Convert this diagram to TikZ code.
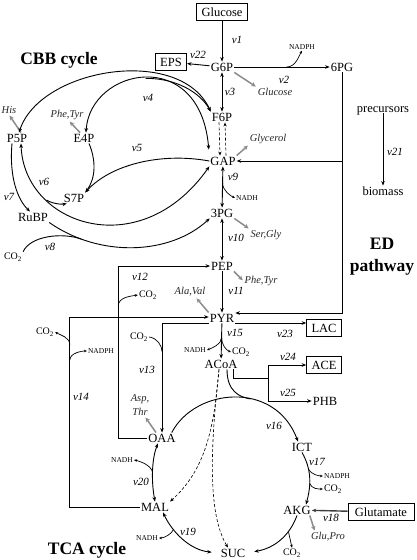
\documentclass[tikz,border=0pt]{standalone}
\usepackage{fontspec}
\setmainfont{Liberation Serif}
\usetikzlibrary{arrows.meta}
\tikzset{
    met/.style={font=\fontsize{12.5}{14}\selectfont, inner sep=1pt, text height=8.5pt, text depth=0pt},
    pool/.style={met, draw=black, line width=0.6pt, inner xsep=5pt, inner ysep=4.5pt},
    rxn/.style={font=\fontsize{11}{13}\selectfont\itshape, inner sep=1pt},
    prod/.style={font=\fontsize{10.5}{14}\selectfont\itshape, text=black!85, inner sep=1pt},
    cof/.style={font=\fontsize{7.5}{9}\selectfont, inner sep=1pt},
    gas/.style={font=\fontsize{10}{12}\selectfont, inner sep=1pt},
    heading/.style={font=\fontsize{17.5}{22}\selectfont\bfseries, align=center, inner sep=0pt},
    flux/.style={line width=0.9pt, -{Stealth[length=4.5pt,width=3.6pt]}},
    rev/.style={line width=0.9pt, {Stealth[length=4.5pt,width=3.6pt]}-{Stealth[length=4.5pt,width=3.6pt]}},
    drain/.style={draw=black!45, line width=1.5pt, -{Stealth[length=4.5pt,width=4.5pt]}, shorten >=1pt},
    side/.style={line width=0.7pt, -{Stealth[length=3pt,width=2.6pt]}},
    spill/.style={line width=0.6pt, densely dashed, -{Stealth[length=4pt,width=3.2pt]}}
}
\begin{document}
\begin{tikzpicture}[x=1pt, y=-1pt]
    \useasboundingbox (0,0) rectangle (416,560);
    % metabolites
    \node [pool] (glc) at (222,12) {Glucose};
    \node [met] (g6p) at (222,67) {G6P};
    \node [pool] (eps) at (171,62) {EPS};
    \node [met] (pg6) at (342,67) {6PG};
    \node [met] (f6p) at (222,117) {F6P};
    \node [met] (gap) at (223,161) {GAP};
    \node [met] (pg3) at (222,213) {3PG};
    \node [met] (pep) at (222,266) {PEP};
    \node [met] (pyr) at (222,318) {PYR};
    \node [met] (acoa) at (221,364) {ACoA};
    \node [pool] (lac) at (324,328) {LAC};
    \node [pool] (ace) at (324,365) {ACE};
    \node [met] (phb) at (325,401) {PHB};
    \node [met] (oaa) at (162,438) {OAA};
    \node [met] (mal) at (155,507) {MAL};
    \node [met] (ict) at (302,447) {ICT};
    \node [met] (akg) at (297,510) {AKG};
    \node [met] (suc) at (233,553) {SUC};
    \node [pool, inner xsep=7pt] (glut) at (381,512) {Glutamate};
    \node [met] (p5p) at (17,138) {P5P};
    \node [met] (e4p) at (84,138) {E4P};
    \node [met] (s7p) at (74,198) {S7P};
    \node [met] (rubp) at (33,217) {RuBP};
    \node [gas] (co2fix) at (13,257) {CO\textsubscript{2}};
    \node [met] (prec) at (383,108) {precursors};
    \node [met] (biom) at (383,191) {biomass};
    \node [heading] (cbb) at (59,60) {CBB cycle};
    \node [heading] (ed) at (382,257) {ED\\pathway};
    \node [heading] (tca) at (87,550) {TCA cycle};
    % drained products
    \node [prod] (glcout) at (275,92) {Glucose};
    \node [prod] (glyc) at (268,139) {Glycerol};
    \node [prod] (sergly) at (266,235) {Ser,Gly};
    \node [prod] (phetyr) at (261,281) {Phe,Tyr};
    \node [prod] (alaval) at (190,292) {Ala,Val};
    \node [prod, align=center] (aspthr) at (140,405) {Asp,\\Thr};
    \node [prod] (glupro) at (328,537) {Glu,Pro};
    \node [prod] (his) at (9,110) {His};
    \node [prod] (phetyrb) at (67,115) {Phe,Tyr};
    % cofactors
    \node [cof] (nadph2) at (302,47) {NADPH};
    \node [cof] (nadh9) at (247,198) {NADH};
    \node [gas] (co2pepc) at (148,295) {CO\textsubscript{2}};
    \node [gas] (co2mal) at (45,332) {CO\textsubscript{2}};
    \node [cof] (nadph14) at (101,351) {NADPH};
    \node [gas] (co2pc) at (139,337) {CO\textsubscript{2}};
    \node [cof] (nadh15) at (195,350) {NADH};
    \node [gas] (co2pdh) at (241,352) {CO\textsubscript{2}};
    \node [cof] (nadph17) at (337,476) {NADPH};
    \node [gas] (co2ict) at (333,489) {CO\textsubscript{2}};
    \node [gas] (co2akg) at (292,553) {CO\textsubscript{2}};
    \node [cof] (nadh20) at (122,460) {NADH};
    \node [cof] (nadh19) at (147,538) {NADH};
    % flux names
    \node [rxn] (v1) at (237,40) {v1};
    \node [rxn] (v22) at (198,55) {v22};
    \node [rxn] (v2) at (284,80) {v2};
    \node [rxn] (v3) at (230,92) {v3};
    \node [rxn] (v21) at (395,152) {v21};
    \node [rxn] (v9) at (233,177) {v9};
    \node [rxn] (v10) at (236,238) {v10};
    \node [rxn] (v11) at (236,291) {v11};
    \node [rxn] (v12) at (140,277) {v12};
    \node [rxn] (v13) at (147,370) {v13};
    \node [rxn] (v14) at (81,397) {v14};
    \node [rxn] (v15) at (235,333) {v15};
    \node [rxn] (v23) at (285,334) {v23};
    \node [rxn] (v24) at (288,357) {v24};
    \node [rxn] (v25) at (288,393) {v25};
    \node [rxn] (v16) at (274,426) {v16};
    \node [rxn] (v17) at (317,462) {v17};
    \node [rxn] (v18) at (331,518) {v18};
    \node [rxn] (v19) at (188,532) {v19};
    \node [rxn] (v20) at (141,482) {v20};
    \node [rxn] (v4) at (148,98) {v4};
    \node [rxn] (v5) at (137,148) {v5};
    \node [rxn] (v6) at (44,182) {v6};
    \node [rxn] (v7) at (9,197) {v7};
    \node [rxn] (v8) at (50,247) {v8};

    % glycolysis and ED pathway
    \draw [flux] (glc) -- (g6p);
    \draw [flux] (g6p) -- (eps);
    \draw [flux] (g6p) -- coordinate[pos=0.55] (ox2) (pg6);
    \draw [side] (ox2) .. controls +(9,0) and +(-3,5) .. (nadph2.south);
    \draw [rev] (g6p) -- (f6p);
    \draw [spill] ([xshift=-3pt]f6p.south) -- ([xshift=-3pt]gap.north);
    \draw [spill] ([xshift=3pt]gap.north) -- ([xshift=3pt]f6p.south);
    \draw [rev] (gap) -- coordinate[pos=0.4] (ox9) (pg3);
    \draw [side] (ox9) .. controls +(0,8) and +(-4,-2) .. (nadh9.west);
    \draw [rev] (pg3) -- (pep);
    \draw [flux] (pep) -- (pyr);
    \draw [flux] (pyr) -- coordinate[pos=0.4] (ox15) (acoa);
    \draw [side] (ox15) .. controls +(0,7) and +(5,-2) .. (nadh15.east);
    \draw [side] (ox15) .. controls +(0,7) and +(-5,-2) .. (co2pdh.west);
    \draw [flux] (pg6) |- ([yshift=5pt]pyr.east);
    \draw [flux] (pg6 |- gap) -- (gap);
    \draw [flux] (prec) -- (biom);
    \draw [flux] ([yshift=-5pt]pyr.east) -- ([yshift=-5pt]pyr.east -| lac.west);

    % drains to biomass
    \draw [drain] (g6p.south east) -- (glcout.north west);
    \draw [drain] (gap.north east) -- (glyc.south west);
    \draw [drain] (pg3.south east) -- (sergly.north west);
    \draw [drain] (pep.south east) -- (phetyr.west);
    \draw [drain] (pyr.north west) -- ([xshift=6pt]alaval.south);
    \draw [drain] ([xshift=-6pt]oaa.north) -- ([xshift=5pt]aspthr.south);
    \draw [drain] ([xshift=-2pt]akg.south east) -- ([xshift=5pt]glupro.north west);
    \draw [drain] ([xshift=4pt]p5p.north) -- (his.south);
    \draw [drain] ([xshift=-4pt]e4p.north) -- ([xshift=2pt]phetyrb.south);

    % anaplerotic fluxes
    \draw [flux] ([yshift=-5pt]pyr.west) -| coordinate[pos=0.63] (ox13) (oaa.north);
    \draw [line width=0.7pt] (co2pc.east) .. controls +(8,1) and +(0,-6) .. (ox13);
    \draw [flux] (oaa.west) -- ++(-29,0) |- coordinate[pos=0.384] (ox12) (pep.west);
    \draw [side] (ox12) .. controls +(0,-9) and +(-6,1) .. (co2pepc.west);
    \draw [flux] (mal.west) -- ++(-70,0) |- coordinate[pos=0.387] (ox14b) coordinate[pos=0.426] (ox14a) ([yshift=1pt]pyr.west);
    \draw [side] (ox14a) .. controls +(0,-8) and +(5,3) .. (co2mal.east);
    \draw [side] (ox14b) .. controls +(0,-7) and +(-5,0) .. (nadph14.west);

    % acetyl-CoA
    \coordinate (acbr) at (268,378);
    \draw [line width=0.9pt] ([xshift=-5pt]acoa.south east) |- (acbr);
    \draw [flux] (acbr) |- (ace.west);
    \draw [flux] (acbr) |- (phb.west);

    % TCA cycle
    \draw [flux] ([xshift=-5pt]oaa.north east) .. controls (195,388) and (275,380) .. coordinate[pos=0.6] (tcain) ([xshift=-4pt]ict.north);
    \draw [line width=0.9pt] ([xshift=6pt]acoa.south) .. controls (227,392) and (240,397) .. (tcain);
    \draw [spill] ([xshift=-2pt]acoa.south) .. controls (214,430) and (205,470) .. (mal.north east);
    \draw [spill] ([xshift=-2pt]acoa.south) .. controls (210,450) and (208,515) .. ([xshift=-5pt]suc.north);
    \draw [flux] (ict.south) .. controls (312,470) and (311,486) .. coordinate[pos=0.33] (ox17a) coordinate[pos=0.6] (ox17b) ([xshift=9pt]akg.north);
    \draw [side] (ox17a) .. controls +(3,5) and +(-4,0) .. (nadph17.west);
    \draw [side] (ox17b) .. controls +(2,6) and +(-4,0) .. (co2ict.west);
    \draw [flux, draw=black!75, line width=1.4pt] (glut) -- (akg);
    \draw [flux, shorten >=8pt] (akg.south) .. controls (290,535) and (275,548) .. coordinate[pos=0.3] (ox18) (suc.east);
    \draw [side] (ox18) -- (co2akg.north);
    \draw [rev, shorten <=8pt] (suc.west) .. controls (190,550) and (172,532) .. coordinate[pos=0.7] (ox19) ([xshift=-7pt]mal.south east);
    \draw [side] (ox19) .. controls +(-2,5) and +(5,0) .. (nadh19.east);
    \draw [rev] (mal.north) .. controls (151,480) and (152,458) .. coordinate[pos=0.45] (ox20) ([xshift=-4pt]oaa.south);
    \draw [side] (ox20) .. controls +(-1,-8) and +(5,1) .. (nadh20.east);

    % CBB cycle
    \draw [rev] ([xshift=2pt]p5p.north) .. controls (40,68) and (180,45) .. (f6p.north west);
    \draw [rev, shorten >=6pt] ([xshift=2pt]e4p.north) .. controls (90,68) and (200,45) .. coordinate[pos=0.5] (ox4) (gap.north west);
    \draw [flux] (ox4) .. controls (175,78) and (200,92) .. (f6p.north west);
    \draw [flux] (gap.west) .. controls (160,152) and (110,165) .. (s7p.north east);
    \draw [flux] ([xshift=5pt]e4p.south) .. controls (96,160) and (96,178) .. (s7p.north east);
    \draw [rev] ([xshift=4pt]p5p.south) .. controls (24,225) and (140,265) .. coordinate[pos=0.28] (ox6) (gap.south west);
    \draw [flux] (ox6) .. controls +(6,4) and +(-4,1) .. ([xshift=4pt]s7p.south west);
    \draw [flux] ([xshift=-5pt]p5p.south) .. controls (9,178) and (18,200) .. ([xshift=-3pt]rubp.north);
    \draw [flux] (rubp.south east) .. controls (100,258) and (170,255) .. coordinate[pos=0.2] (ox8) (pg3.south west);
    \draw [line width=0.9pt] (co2fix.north east) .. controls (30,236) and (62,232) .. (ox8);
\end{tikzpicture}
\end{document}
